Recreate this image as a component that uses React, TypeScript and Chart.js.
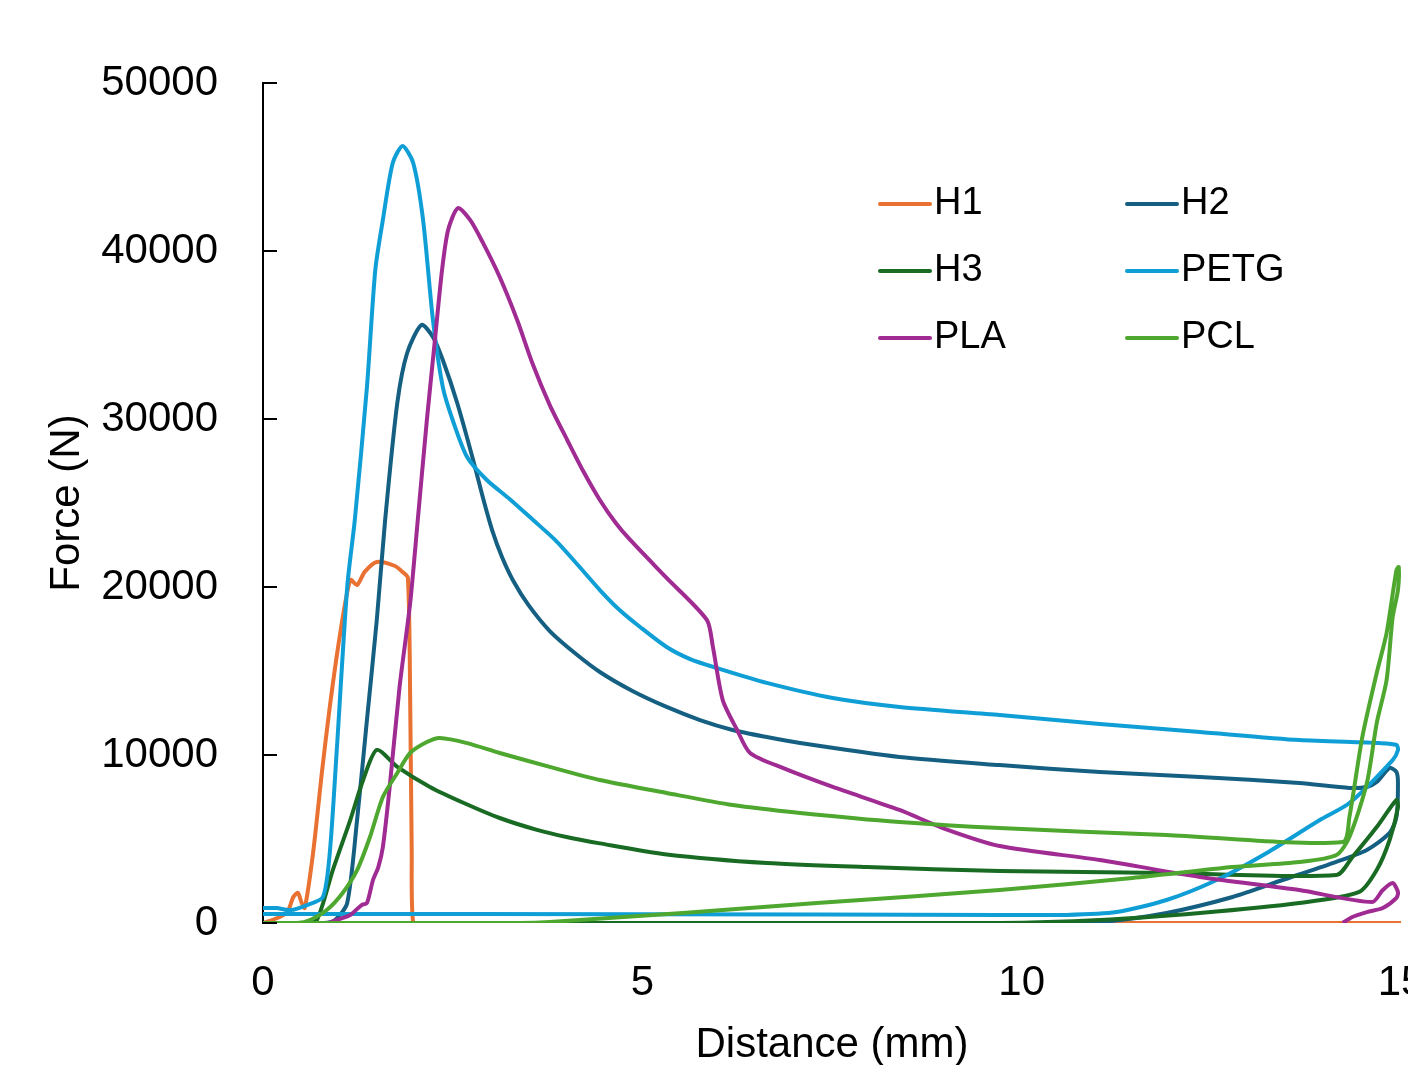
import { useEffect, useRef } from "react";
import { Chart, registerables } from "chart.js";

Chart.register(...registerables);

// ---- data (Distance in mm, Force in N) ----
const seriesNames = ["H1", "H2", "H3", "PETG", "PLA", "PCL"];
const seriesColors = ["#E97132", "#156082", "#196B24", "#0F9ED5", "#A02B93", "#4EA72E"];
const xTickValues = [0, 5, 10, 15];
const yTickValues = [0, 10000, 20000, 30000, 40000, 50000];

const h1X = [0, 0.19, 0.32, 0.4, 0.46, 0.51, 0.55, 0.66, 0.78, 0.88, 1.01, 1.15, 1.24, 1.34, 1.5, 1.74, 1.84, 1.91, 1.94, 1.96, 1.98, 2.1, 5, 10, 15];
const h1Y = [0, 300, 650, 1550, 1790, 1190, 890, 4170, 9110, 12860, 17020, 20420, 20120, 20900, 21490, 21250, 20890, 20540, 13270, 4350, 0, 0, 0, 0, 0];

const h2X = [0, 0.8, 0.95, 1.11, 1.24, 1.37, 1.5, 1.61, 1.77, 1.9, 2.09, 2.24, 2.37, 2.56, 2.77, 2.9, 3.02, 3.15, 3.3, 3.5, 3.78, 4.11, 4.44, 4.87, 5.32, 5.76, 6.19, 6.64, 7.08, 8.39, 9.71, 11.03, 12.35, 13.66, 14.32, 14.55, 14.68, 14.85, 14.94, 14.96, 14.94, 14.85, 14.55, 14.1, 13.44, 12.78, 11.91, 11.03, 10.2, 9.5];
const h2Y = [0, 0, 180, 1190, 6130, 12080, 18040, 23990, 30950, 33930, 35600, 34880, 33510, 30950, 27560, 25300, 23390, 21790, 20360, 18920, 17380, 16070, 14940, 13810, 12860, 12080, 11490, 11070, 10710, 9880, 9400, 8990, 8690, 8330, 8040, 8100, 8390, 9230, 8990, 8330, 6310, 5360, 4350, 3570, 2560, 1550, 600, 60, 0, 0];

const h3X = [0, 0.55, 0.71, 0.92, 1.15, 1.32, 1.5, 1.77, 2.2, 2.64, 3.12, 3.6, 4.0, 4.44, 5.32, 6.64, 7.96, 9.71, 11.91, 14.15, 14.36, 14.68, 14.94, 14.96, 14.85, 14.68, 14.45, 13.66, 12.35, 11.03, 9.71, 5, 0];
const h3Y = [0, 0, 180, 3150, 6130, 8510, 10300, 9290, 8100, 7160, 6250, 5560, 5120, 4740, 4080, 3570, 3330, 3100, 2980, 2860, 3930, 5710, 7320, 6900, 4940, 3150, 1850, 1190, 600, 180, 0, 0, 0];

const petgX = [0, 0.18, 0.36, 0.58, 0.79, 0.88, 0.97, 1.11, 1.21, 1.37, 1.48, 1.58, 1.71, 1.84, 1.98, 2.11, 2.24, 2.37, 2.5, 2.69, 2.95, 3.25, 3.56, 3.85, 4.15, 4.44, 4.7, 4.97, 5.32, 5.63, 5.98, 6.64, 7.51, 8.39, 9.71, 11.03, 12.35, 13.66, 14.72, 14.94, 14.96, 14.89, 14.32, 13.93, 13.23, 12.57, 11.91, 11.25, 10.59, 9.71, 5, 0.5, 0];
const petgY = [890, 890, 770, 1070, 1550, 4170, 10120, 20000, 23990, 31900, 38870, 41850, 45240, 46250, 45240, 41850, 35890, 31900, 29940, 27740, 26370, 25240, 23990, 22800, 21310, 19820, 18630, 17620, 16430, 15710, 15180, 14290, 13390, 12860, 12380, 11850, 11370, 10890, 10710, 10600, 10300, 9700, 7140, 6130, 4170, 2560, 1370, 650, 480, 480, 520, 540, 540];

const plaX = [0, 0.85, 0.97, 1.15, 1.3, 1.37, 1.45, 1.52, 1.58, 1.67, 1.8, 1.94, 2.04, 2.16, 2.27, 2.36, 2.44, 2.57, 2.73, 2.9, 3.12, 3.35, 3.56, 3.78, 4.01, 4.22, 4.44, 4.65, 4.84, 5.32, 5.85, 5.93, 6.06, 6.25, 6.42, 6.85, 7.51, 8.39, 8.96, 9.71, 11.03, 12.35, 13.66, 14.62, 14.76, 14.89, 14.96, 14.94, 14.76, 14.55, 14.36, 14.23];
const plaY = [0, 0, 180, 480, 1070, 1190, 2560, 3330, 4520, 8100, 14050, 19050, 23990, 29940, 34880, 38870, 41250, 42560, 41850, 40480, 38450, 35890, 33210, 30830, 28750, 26900, 25180, 23810, 22800, 20540, 18040, 16430, 13270, 11490, 10120, 9230, 8100, 6730, 5650, 4580, 3750, 2740, 1960, 1250, 1960, 2380, 1850, 1490, 890, 650, 360, 0];

const pclX = [0, 0.45, 0.62, 0.84, 1.05, 1.24, 1.41, 1.58, 1.77, 1.94, 2.16, 2.33, 2.69, 3.12, 3.78, 4.44, 5.32, 6.19, 7.08, 8.39, 9.71, 11.91, 14.23, 14.32, 14.49, 14.68, 14.81, 14.94, 14.97, 14.96, 14.89, 14.81, 14.68, 14.55, 14.32, 14.15, 13.66, 12.78, 11.46, 9.71, 7.3, 5.53, 3.78, 3.39, 2, 0];
const pclY = [0, 0, 180, 770, 1790, 3150, 5120, 7500, 8930, 10120, 10770, 11010, 10710, 10120, 9290, 8510, 7740, 7020, 6550, 6010, 5650, 5240, 4820, 6310, 11070, 14880, 17260, 21010, 21190, 19820, 18210, 14460, 11900, 8330, 5120, 4050, 3630, 3330, 2680, 1960, 1190, 600, 60, 0, 0, 0];

const seriesX = [h1X, h2X, h3X, petgX, plaX, pclX];
const seriesY = [h1Y, h2Y, h3Y, petgY, plaY, pclY];

const FONT = '"Liberation Sans", Arial, sans-serif';

const innerTicksPlugin = {
  id: "innerTicks",
  afterDraw(chart: any) {
    const y = chart.scales.y;
    const ctx = chart.ctx;
    ctx.save();
    ctx.strokeStyle = "#000";
    ctx.lineWidth = 2;
    y.ticks.forEach((t: any) => {
      const py = Math.round(y.getPixelForValue(t.value));
      ctx.beginPath();
      ctx.moveTo(chart.chartArea.left, py);
      ctx.lineTo(chart.chartArea.left + 14, py);
      ctx.stroke();
    });
    ctx.restore();
  },
};

const gridLegendPlugin = {
  id: "gridLegend",
  afterDatasetsDraw(chart: any, _args: any, opts: any) {
    const ctx = chart.ctx;
    ctx.save();
    chart.data.datasets.forEach((ds: any, i: number) => {
      const col = i % 2;
      const row = Math.floor(i / 2);
      const x = opts.colX[col];
      const y = opts.rowY[row];
      ctx.strokeStyle = ds.borderColor;
      ctx.lineWidth = 4;
      ctx.lineCap = "round";
      ctx.beginPath();
      ctx.moveTo(x, y);
      ctx.lineTo(x + 50, y);
      ctx.stroke();
      ctx.fillStyle = "#000";
      ctx.font = `38px ${FONT}`;
      ctx.textBaseline = "middle";
      ctx.textAlign = "left";
      ctx.fillText(ds.label, x + 54, y);
    });
    ctx.restore();
  },
};

export default function App() {
  const canvasRef = useRef<HTMLCanvasElement | null>(null);

  useEffect(() => {
    if (!canvasRef.current) return;
    const datasets = seriesNames.map((name, i) => ({
      label: name,
      data: seriesX[i].map((x, j) => ({ x, y: seriesY[i][j] })),
      borderColor: seriesColors[i],
      backgroundColor: seriesColors[i],
      borderWidth: 4,
      pointRadius: 0,
      showLine: true,
      tension: 0.25,
      fill: false,
      order: seriesNames.length - 1 - i,
    }));
    const chart = new Chart(canvasRef.current, {
      type: "scatter",
      data: { datasets },
      plugins: [innerTicksPlugin, gridLegendPlugin],
      options: {
        responsive: false,
        animation: false,
        devicePixelRatio: 1,
        layout: { padding: { left: 38, top: 83, right: 30, bottom: 7 } },
        plugins: {
          legend: { display: false },
          tooltip: { enabled: false },
          gridLegend: { colX: [880, 1127], rowY: [204, 271, 338] },
        } as any,
        scales: {
          x: {
            type: "linear",
            min: 0,
            max: 15,
            afterBuildTicks: (s: any) => {
              s.ticks = xTickValues.map((v) => ({ value: v }));
            },
            afterFit: (s: any) => {
              s.height = 150;
              s.paddingRight = 0;
              s.paddingLeft = 0;
            },
            ticks: { color: "#000", font: { size: 42, family: FONT }, padding: 35, callback: (v: any) => String(v) },
            grid: { display: false, drawTicks: false },
            border: { display: false },
            title: { display: true, text: "Distance (mm)", color: "#000", font: { size: 42, family: FONT }, padding: { top: 4, bottom: 2 } },
          },
          y: {
            type: "linear",
            min: 0,
            max: 50000,
            afterBuildTicks: (s: any) => {
              s.ticks = yTickValues.map((v) => ({ value: v }));
            },
            afterFit: (s: any) => {
              s.width = 225;
            },
            ticks: { color: "#000", font: { size: 42, family: FONT }, padding: 45, callback: (v: any) => String(v) },
            grid: { display: false, drawTicks: false },
            border: { display: true, color: "#000", width: 2 },
            title: { display: true, text: "Force (N)", color: "#000", font: { size: 42, family: FONT }, padding: { top: 4, bottom: 9 } },
          },
        },
      } as any,
    });
    return () => chart.destroy();
  }, []);

  return (
    <div style={{ position: "absolute", left: 0, top: 0, width: 1408, height: 1065, overflow: "hidden", background: "#fff" }}>
      <canvas ref={canvasRef} width={1431} height={1080} style={{ width: 1431, height: 1080, display: "block" }} />
    </div>
  );
}
